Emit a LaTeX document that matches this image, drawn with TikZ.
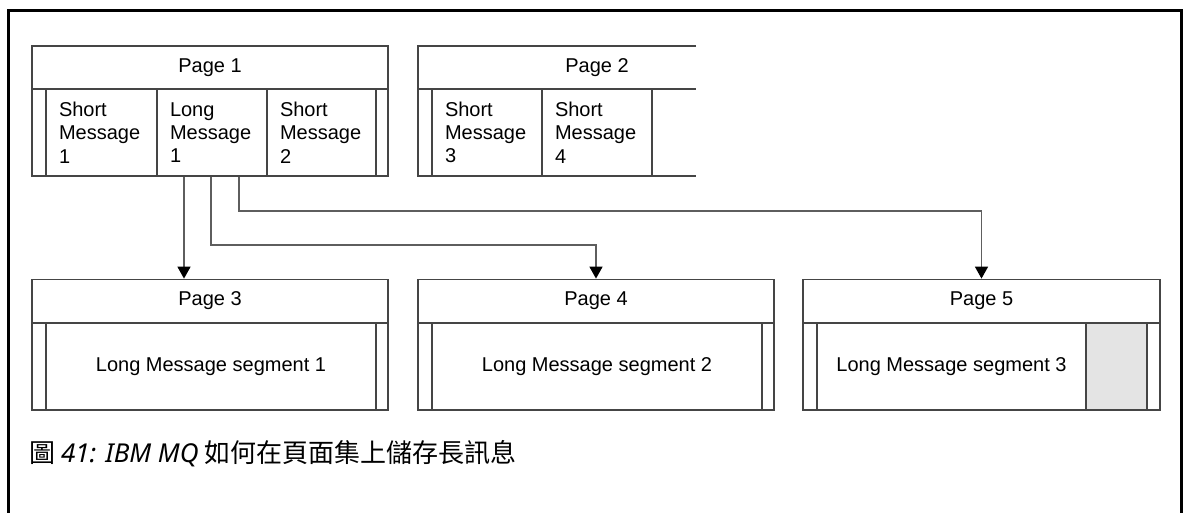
\documentclass[tikz,border=0pt]{standalone}
\usepackage{fontspec}
\setmainfont{Liberation Sans}
\newfontfamily\cjkfont{Noto Sans CJK TC}
\newfontfamily\latcap{Noto Sans}
\usetikzlibrary{arrows.meta,calc}
\definecolor{boxline}{HTML}{454545}
\definecolor{arrline}{HTML}{5E5E5E}
\definecolor{shadefill}{HTML}{E4E4E4}
\begin{document}
\begin{tikzpicture}[x=1pt,y=-1pt,
  every node/.style={font=\fontsize{20}{23.3}\selectfont, inner sep=0pt},
  edge/.style={draw=boxline, line width=1.8pt},
  hdr/.style={edge, minimum width=356pt, minimum height=43pt},
  bodybox/.style={edge, minimum height=87pt},
  msg/.style={bodybox, align=left, inner xsep=13pt},
  arr/.style={draw=arrline, line width=1.6pt, -{Triangle[length=12pt,width=13pt,color=black]}},
  frame/.style={draw=black, line width=3pt}]
\useasboundingbox (0,0) rectangle (1186,512);
\clip (0,0) rectangle (1186,512);
\fill[white] (0,0) rectangle (1186,512);

% outer frame
\draw[frame] (8.7,530) -- (8.7,10.5) -- (1181,10.5) -- (1181,530);

% Page 1
\node[hdr] (p1h) at (210,67.5) {Page 1};
\node[bodybox, minimum width=14pt] (p1ml) at (39,132.5) {};
\node[msg, text width=85pt] (sm1) at (101.5,132.5) {Short\\Message\\1};
\node[msg, text width=84pt] (lm1) at (212,132.5) {Long\\Message\\1};
\node[msg, text width=83pt] (sm2) at (321.5,132.5) {Short\\Message\\2};
\node[bodybox, minimum width=12pt] (p1mr) at (382,132.5) {};

% Page 2 (cut off at right)
\node (p2h) at (597,67.5) {Page 2};
\draw[edge] (696,46) -- (418,46) -- (418,176) -- (696,176);
\draw[edge] (418,89) -- (696,89);
\node[bodybox, minimum width=14pt] (p2ml) at (425,132.5) {};
\node[msg, text width=84pt] (sm3) at (487,132.5) {Short\\Message\\3};
\node[msg, text width=84pt] (sm4) at (597,132.5) {Short\\Message\\4};

% Page 3
\node[hdr] (p3h) at (210,301) {Page 3};
\node[bodybox, minimum width=14pt] (p3ml) at (39,366.5) {};
\node[bodybox, minimum width=330pt] (seg1) at (211,366.5) {Long Message segment 1};
\node[bodybox, minimum width=12pt] (p3mr) at (382,366.5) {};

% Page 4
\node[hdr] (p4h) at (596,301) {Page 4};
\node[bodybox, minimum width=14pt] (p4ml) at (425,366.5) {};
\node[bodybox, minimum width=330pt] (seg2) at (597,366.5) {Long Message segment 2};
\node[bodybox, minimum width=12pt] (p4mr) at (768,366.5) {};

% Page 5
\node[hdr, minimum width=357pt] (p5h) at (981.5,301) {Page 5};
\node[bodybox, minimum width=14pt] (p5ml) at (810,366.5) {};
\node[bodybox, minimum width=269pt] (seg3) at (951.5,366.5) {Long Message segment 3};
\node[bodybox, minimum width=61pt, fill=shadefill] (p5free) at (1116.5,366.5) {};
\node[bodybox, minimum width=13pt] (p5mr) at (1153.5,366.5) {};

% connectors
\draw[arr] ([xshift=-28pt]lm1.south) -- ([xshift=-28pt]lm1.south |- p3h.north);
\draw[arr] ([xshift=-1pt]lm1.south) -- ++(0,68) -| (p4h.north);
\draw[arr] ([xshift=27pt]lm1.south) -- ++(0,34) -| (p5h.north);

% caption
\node[anchor=base west, font=\fontsize{26}{30}\selectfont] (cap) at (29,462)
  {\cjkfont 圖 {\latcap\itshape 41: IBM MQ} 如何在頁面集上儲存長訊息};
\end{tikzpicture}
\end{document}
